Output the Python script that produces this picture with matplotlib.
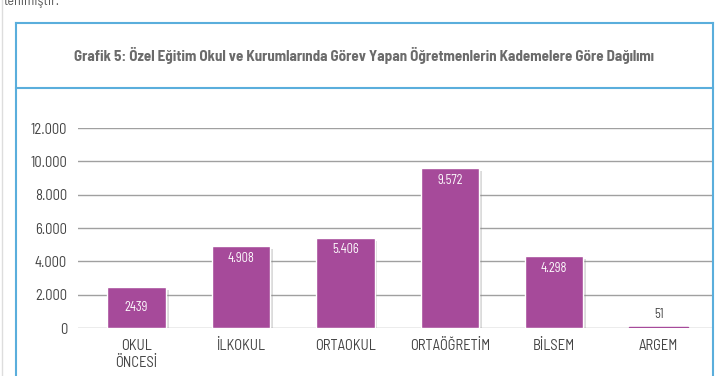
import matplotlib
matplotlib.use("Agg")
import matplotlib.pyplot as plt
from matplotlib.lines import Line2D
import matplotlib.patheffects as pe
from matplotlib import font_manager

categories = ["OKUL\nÖNCESİ", "İLKOKUL", "ORTAOKUL", "ORTAÖĞRETİM", "BİLSEM", "ARGEM"]
values = [2439, 4908, 5406, 9572, 4298, 51]
value_labels = ["2439", "4.908", "5.406", "9.572", "4.298", "51"]
yticks = [0, 2000, 4000, 6000, 8000, 10000, 12000]
ytick_labels = ["0", "2.000", "4.000", "6.000", "8.000", "10.000", "12.000"]
title = "Grafik 5: Özel Eğitim Okul ve Kurumlarında Görev Yapan Öğretmenlerin Kademelere Göre Dağılımı"

names = {f.name for f in font_manager.fontManager.ttflist}
fam = "DejaVu Sans"
for c in ["Barlow Semi Condensed", "Roboto Condensed", "Barlow Condensed",
          "Saira Semi Condensed", "Archivo Narrow", "PT Sans Narrow", "Liberation Sans Narrow"]:
    if c in names:
        fam = c
        break
plt.rcParams["font.family"] = [fam, "DejaVu Sans"]

W, H = 716, 376
fig = plt.figure(figsize=(W / 100, H / 100), dpi=100)
fig.patch.set_facecolor("white")

def fx(x): return x / W
def fy(y): return 1 - y / H

blue = "#5AAEDC"
fig.add_artist(Line2D([fx(16), fx(16)], [fy(23), fy(380)], color=blue, lw=1.5))
fig.add_artist(Line2D([fx(16), fx(713)], [fy(23), fy(23)], color=blue, lw=1.5))
fig.add_artist(Line2D([fx(713), fx(713)], [fy(23), fy(380)], color=blue, lw=1.5))
fig.add_artist(Line2D([fx(16), fx(713)], [fy(88), fy(88)], color=blue, lw=1.5))
fig.add_artist(Line2D([fx(2), fx(2)], [fy(0), fy(376)], color="#DDDDDD", lw=1))

fig.text(fx(4), fy(1), "tenimiştir.", fontsize=10, color="#555555", va="center", ha="left")
t = fig.text(fx(364), fy(55), title, fontsize=10, fontweight="bold", color="#6B6B6B",
             ha="center", va="center")
r = fig.canvas.get_renderer()
w = t.get_window_extent(r).width
t.set_fontsize(10 * 583 / w)

ax = fig.add_axes([fx(78), fy(328), fx(713) - fx(78), (328 - 128) / H])
ax.set_ylim(0, 12000)
ax.set_xlim(-0.56, 5.52)
ax.set_yticks(yticks)
ax.set_yticklabels(ytick_labels, fontsize=10.5, color="#444444")
ax.set_xticks(range(len(categories)))
ax.set_xticklabels(categories, fontsize=10.5, color="#444444", linespacing=1.25)
ax.tick_params(length=0, pad=8)
for s in ax.spines.values():
    s.set_visible(False)
ax.grid(axis="y", color="#A0A0A0", lw=1)
ax.set_axisbelow(True)
ax.patch.set_alpha(0)

purple = "#A64A9A"
edges = ["white" if v > 500 else purple for v in values]
shadow = [pe.SimplePatchShadow(offset=(2, -2), shadow_rgbFace="#888888", alpha=0.3), pe.Normal()]
bars = ax.bar(range(len(values)), values, width=0.56, color=purple,
              edgecolor=edges, linewidth=1.0, zorder=3)
for b in bars:
    b.set_path_effects(shadow)

for i, (v, lab) in enumerate(zip(values, value_labels)):
    if v > 3000:
        ax.text(i, v - 720, lab, ha="center", va="center", fontsize=9,
                color="white", zorder=4)
    elif v > 500:
        ax.text(i, v / 2, lab, ha="center", va="center", fontsize=9,
                color="white", zorder=4)
    else:
        ax.text(i, v + 780, lab, ha="center", va="center", fontsize=9,
                color="#444444", zorder=4)

fig.savefig("out.png", dpi=100, facecolor="white")
